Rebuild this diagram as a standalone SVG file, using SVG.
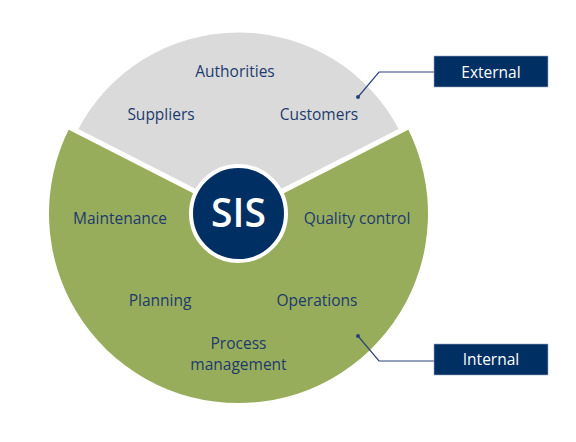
<svg xmlns="http://www.w3.org/2000/svg" width="576" height="442" viewBox="0 0 576 442">
<style>
.lbl{font-family:"Open Sans","Noto Sans","DejaVu Sans",sans-serif;font-size:15.5px;fill:#1c3a6e;text-anchor:middle}
.tag{font-family:"Open Sans","Noto Sans","DejaVu Sans",sans-serif;font-size:15.5px;fill:#ffffff;text-anchor:middle}
.lead{fill:none;stroke:#2a427a;stroke-width:1.2}
.box{fill:#003063;stroke:#9aa7c0;stroke-width:0.6}
</style>
<rect width="576" height="442" fill="#ffffff"/>
<g id="internal-sector">
<path d="M238.5,213.5 L407.3,127.5 A189.5,189.5 0 1 1 69.7,127.5 Z" fill="#98ad5b"/>
</g>
<g id="external-sector">
<path d="M238.5,213.5 L77.2,131.3 A181,181 0 0 1 399.8,131.3 Z" fill="#dadada"/>
</g>
<g id="dividers">
<line x1="238.5" y1="213.5" x2="65" y2="125" stroke="#ffffff" stroke-width="5"/>
<line x1="238.5" y1="213.5" x2="412" y2="125" stroke="#ffffff" stroke-width="5"/>
</g>
<g id="sis">
<circle cx="238.5" cy="213.5" r="47.5" fill="#003063" stroke="#ffffff" stroke-width="4"/>
<text x="238.5" y="226.5" font-family="'Open Sans','Noto Sans','DejaVu Sans',sans-serif" font-size="39" font-weight="600" fill="#ffffff" text-anchor="middle">SIS</text>
</g>
<g id="ext-labels">
<text class="lbl" x="235" y="77">Authorities</text>
<text class="lbl" x="161" y="120">Suppliers</text>
<text class="lbl" x="319" y="120">Customers</text>
</g>
<g id="int-labels">
<text class="lbl" x="120" y="224">Maintenance</text>
<text class="lbl" x="357" y="224">Quality control</text>
<text class="lbl" x="160" y="306">Planning</text>
<text class="lbl" x="317" y="306">Operations</text>
<text class="lbl" x="238.5" y="349">Process</text>
<text class="lbl" x="238.5" y="370">management</text>
</g>
<g id="connectors">
<polyline class="lead" points="358,97 379,72 434,72"/>
<circle cx="358" cy="97" r="2" fill="#2a427a"/>
<polyline class="lead" points="358,336 379,361 434,361"/>
<circle cx="358" cy="336" r="2" fill="#2a427a"/>
</g>
<g id="external">
<rect class="box" x="434" y="56" width="114" height="31"/>
<text class="tag" x="491" y="77.5">External</text>
</g>
<g id="internal">
<rect class="box" x="434" y="344" width="114" height="31"/>
<text class="tag" x="491" y="364.5">Internal</text>
</g>
</svg>
